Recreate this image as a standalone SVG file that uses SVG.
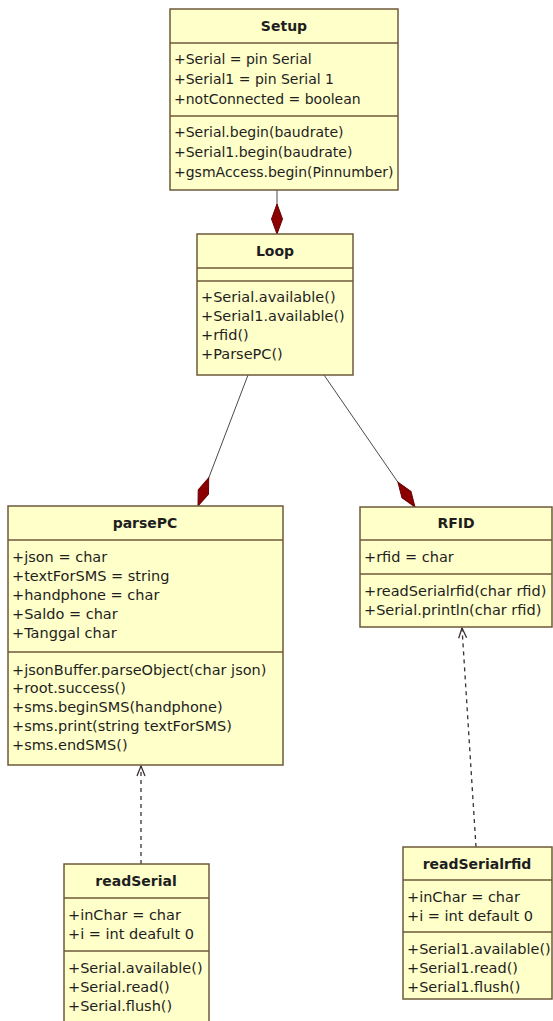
<svg xmlns="http://www.w3.org/2000/svg" width="553" height="1021" viewBox="0 0 553 1021">
<defs>
<style>
.box{fill:#FFFFCA;stroke:#6E5A3A;stroke-width:1.5}
.div{stroke:#6E5A3A;stroke-width:1.5}
.t{font-family:"DejaVu Sans",Verdana,sans-serif;font-size:14.5px;fill:#1E1E1E}
.s{font-size:14px}
.h{font-family:"DejaVu Sans",Verdana,sans-serif;font-size:14px;font-weight:bold;fill:#1E1E1E;text-anchor:middle}
.comp{stroke:#4A4A4A;stroke-width:1;fill:none}
.dep{stroke:#3A3030;stroke-width:1.3;fill:none;stroke-dasharray:4,4}
</style>
<marker id="diamond" markerUnits="userSpaceOnUse" markerWidth="32" markerHeight="14" viewBox="-31 -7 32 14" refX="0" refY="0" orient="auto">
<path d="M0,0 L-15,-5.5 L-30,0 L-15,5.5 Z" fill="#8B0000" stroke="#6A0000" stroke-width="1"/>
</marker>
<marker id="open" markerUnits="userSpaceOnUse" markerWidth="14" markerHeight="12" viewBox="-12 -6 14 12" refX="0" refY="0" orient="auto">
<path d="M-10,-4 L0,0 L-10,4" fill="none" stroke="#3A3030" stroke-width="1.3"/>
</marker>
</defs>
<rect width="553" height="1021" fill="#FFFFFF"/>

<g id="connectors">
<line class="comp" x1="277" y1="190" x2="277" y2="234" marker-end="url(#diamond)"/>
<line class="comp" x1="248" y1="375" x2="198" y2="506" marker-end="url(#diamond)"/>
<line class="comp" x1="324" y1="375" x2="415" y2="507" marker-end="url(#diamond)"/>
<line class="dep" x1="141" y1="864" x2="141" y2="766" marker-end="url(#open)"/>
<line class="dep" x1="476" y1="847" x2="462" y2="628" marker-end="url(#open)"/>
</g>

<g id="setup">
<rect class="box" x="170" y="9" width="228" height="181"/>
<line class="div" x1="170" y1="43" x2="398" y2="43"/>
<line class="div" x1="170" y1="116" x2="398" y2="116"/>
<text class="h" x="284" y="31">Setup</text>
<text class="t s" x="174" y="64">+Serial = pin Serial</text>
<text class="t s" x="174" y="84">+Serial1 = pin Serial 1</text>
<text class="t s" x="174" y="104">+notConnected = boolean</text>
<text class="t s" x="174" y="137">+Serial.begin(baudrate)</text>
<text class="t s" x="174" y="157">+Serial1.begin(baudrate)</text>
<text class="t s" x="174" y="177">+gsmAccess.begin(Pinnumber)</text>
</g>

<g id="loop">
<rect class="box" x="197" y="234" width="156" height="141"/>
<line class="div" x1="197" y1="268" x2="353" y2="268"/>
<line class="div" x1="197" y1="281" x2="353" y2="281"/>
<text class="h" x="275" y="256">Loop</text>
<text class="t" x="201" y="302">+Serial.available()</text>
<text class="t" x="201" y="321">+Serial1.available()</text>
<text class="t" x="201" y="340">+rfid()</text>
<text class="t" x="201" y="359">+ParsePC()</text>
</g>

<g id="parsePC">
<rect class="box" x="8" y="506" width="275" height="259"/>
<line class="div" x1="8" y1="540" x2="283" y2="540"/>
<line class="div" x1="8" y1="652" x2="283" y2="652"/>
<text class="h" x="145" y="528">parsePC</text>
<text class="t" x="12" y="562">+json = char</text>
<text class="t" x="12" y="581">+textForSMS = string</text>
<text class="t" x="12" y="600">+handphone = char</text>
<text class="t" x="12" y="619">+Saldo = char</text>
<text class="t" x="12" y="638">+Tanggal char</text>
<text class="t" x="12" y="675">+jsonBuffer.parseObject(char json)</text>
<text class="t" x="12" y="693">+root.success()</text>
<text class="t" x="12" y="712">+sms.beginSMS(handphone)</text>
<text class="t" x="12" y="731">+sms.print(string textForSMS)</text>
<text class="t" x="12" y="750">+sms.endSMS()</text>
</g>

<g id="rfid">
<rect class="box" x="360" y="507" width="192" height="120"/>
<line class="div" x1="360" y1="540" x2="552" y2="540"/>
<line class="div" x1="360" y1="574" x2="552" y2="574"/>
<text class="h" x="456" y="528">RFID</text>
<text class="t" x="364" y="562">+rfid = char</text>
<text class="t" x="364" y="596">+readSerialrfid(char rfid)</text>
<text class="t" x="364" y="615">+Serial.println(char rfid)</text>
</g>

<g id="readSerial">
<rect class="box" x="64" y="864" width="145" height="170"/>
<line class="div" x1="64" y1="898" x2="209" y2="898"/>
<line class="div" x1="64" y1="951" x2="209" y2="951"/>
<text class="h" x="136" y="886">readSerial</text>
<text class="t" x="68" y="920">+inChar = char</text>
<text class="t" x="68" y="939">+i = int deafult 0</text>
<text class="t" x="68" y="973">+Serial.available()</text>
<text class="t" x="68" y="992">+Serial.read()</text>
<text class="t" x="68" y="1011">+Serial.flush()</text>
</g>

<g id="readSerialrfid">
<rect class="box" x="403" y="847" width="149" height="152"/>
<line class="div" x1="403" y1="880" x2="552" y2="880"/>
<line class="div" x1="403" y1="932" x2="552" y2="932"/>
<text class="h" x="477" y="869">readSerialrfid</text>
<text class="t" x="407" y="902">+inChar = char</text>
<text class="t" x="407" y="921">+i = int default 0</text>
<text class="t" x="407" y="954">+Serial1.available()</text>
<text class="t" x="407" y="973">+Serial1.read()</text>
<text class="t" x="407" y="992">+Serial1.flush()</text>
</g>
</svg>
